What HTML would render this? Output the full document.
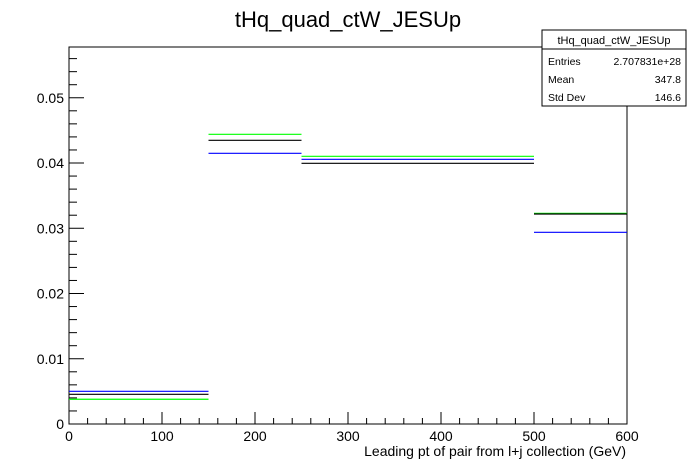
<!DOCTYPE html>
<html><head><meta charset="utf-8"><style>
body{margin:0;background:#fff;}
svg{display:block;font-family:"Liberation Sans",sans-serif;}
</style></head><body>
<svg id="c" width="696" height="472">
<text x="348" y="27" font-size="22" text-anchor="middle">tHq_quad_ctW_JESUp</text>
<rect x="69" y="47" width="558" height="377" fill="none" stroke="#000" stroke-width="1"/>
<g id="axes"></g>
<g id="marks"></g>
<text x="626" y="456" font-size="14" text-anchor="end">Leading pt of pair from l+j collection (GeV)</text>
<g>
<rect x="542" y="30" width="144" height="76" fill="#fff" stroke="#000"/>
<line x1="542" y1="49" x2="686" y2="49" stroke="#000"/>
<text x="614" y="44" font-size="11" text-anchor="middle">tHq_quad_ctW_JESUp</text>
<text x="548" y="65" font-size="10.5">Entries</text>
<text x="681" y="65" font-size="10.5" text-anchor="end">2.707831e+28</text>
<text x="548" y="83" font-size="10.5">Mean</text>
<text x="681" y="83" font-size="10.5" text-anchor="end">347.8</text>
<text x="548" y="101" font-size="10.5">Std Dev</text>
<text x="681" y="101" font-size="10.5" text-anchor="end">146.6</text>
</g>
</svg>
<script>
const binEdges=[0,150,250,500,600];
const blackValues=[0.00455,0.04348,0.03995,0.03218];
const greenValues=[0.00379,0.0444,0.04103,0.03229];
const blueValues=[0.00501,0.04149,0.04057,0.02938];
const yTicks=[0,0.01,0.02,0.03,0.04,0.05];
const yTickLabels=["0","0.01","0.02","0.03","0.04","0.05"];
const xTicks=[0,100,200,300,400,500,600];
const xTickLabels=["0","100","200","300","400","500","600"];
const X0=69,X1=627,Y0=424,Y1=47,XMAX=600,YMAX=0.05778;
const sx=v=>X0+(X1-X0)*v/XMAX;
const sy=v=>Y0-(Y0-Y1)*v/YMAX;
const NS="http://www.w3.org/2000/svg";
function mk(t,a,p){const e=document.createElementNS(NS,t);for(const k in a)e.setAttribute(k,a[k]);p.appendChild(e);return e;}
const ax=document.getElementById('axes'),mg=document.getElementById('marks');
for(let v=0;v<=YMAX+1e-9;v+=0.002){const y=sy(v);const major=Math.abs(v/0.01-Math.round(v/0.01))<1e-6;
const l=mk('line',{x1:X0,x2:X0+(major?15:8),y1:y,y2:y,stroke:'#000'},ax);

}
yTicks.forEach((v,i)=>{const t=mk('text',{x:X0-5,y:sy(v)+5,'font-size':14,'text-anchor':'end'},ax);t.textContent=yTickLabels[i];

});
for(let v=0;v<=XMAX;v+=20){const x=sx(v);const major=v%100===0;
const l=mk('line',{x1:x,x2:x,y1:Y0,y2:Y0-(major?12:6),stroke:'#000'},ax);

}
xTicks.forEach((v,i)=>{const t=mk('text',{x:sx(v),y:Y0+17,'font-size':14,'text-anchor':'middle'},ax);t.textContent=xTickLabels[i];

});
[[greenValues,'#00ff00','green'],[blueValues,'#0000ff','blue'],[blackValues,'#000','black']].forEach(([vals,col,nm])=>{
vals.forEach((v,i)=>{const l=mk('line',{x1:sx(binEdges[i]),x2:sx(binEdges[i+1]),y1:sy(v),y2:sy(v),stroke:col,'stroke-width':1.2},mg);

});});
</script>
</body></html>
